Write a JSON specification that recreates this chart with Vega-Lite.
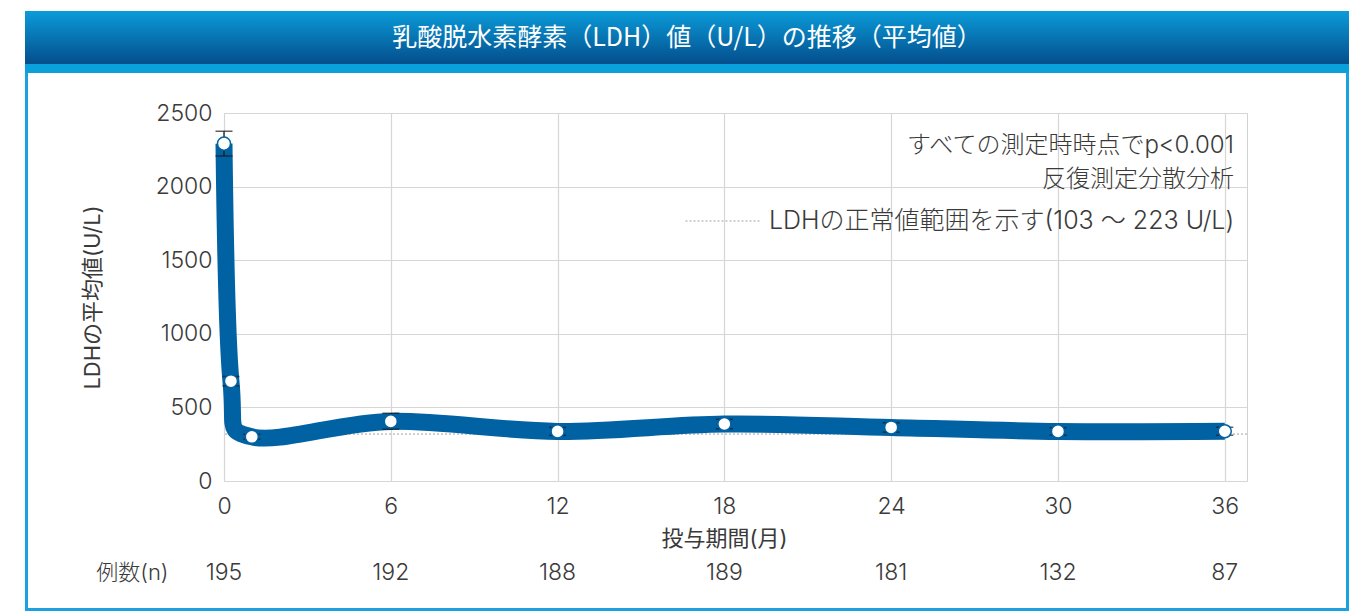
{
  "$schema": "https://vega.github.io/schema/vega-lite/v6.json",
  "background": "#ffffff",
  "padding": {"left": 25, "top": 11, "right": 11, "bottom": 1},
  "spacing": 0,
  "resolve": {"legend": {"color": "independent"}, "scale": {"color": "independent"}},
  "config": {
    "font": "Inter, Noto Sans CJK JP",
    "view": {"stroke": null},
    "axis": {
      "labelFont": "Inter, Noto Sans CJK JP",
      "titleFont": "Inter, Noto Sans CJK JP",
      "labelColor": "#3a3a3a",
      "titleColor": "#3a3a3a",
      "titleFontWeight": "normal",
      "labelFontWeight": 300,
      "labelFlush": false
    }
  },
  "datasets": {
    "ldh": [
      {"month": 0, "mean": 2292, "lo": 2208, "hi": 2376},
      {"month": 0.25, "mean": 678, "lo": 646, "hi": 710},
      {"month": 1, "mean": 300, "lo": 283, "hi": 317},
      {"month": 6, "mean": 405, "lo": 352, "hi": 460},
      {"month": 12, "mean": 337, "lo": 310, "hi": 364},
      {"month": 18, "mean": 387, "lo": 355, "hi": 419},
      {"month": 24, "mean": 364, "lo": 332, "hi": 396},
      {"month": 30, "mean": 337, "lo": 312, "hi": 362},
      {"month": 36, "mean": 338, "lo": 311, "hi": 365}
    ],
    "cases": [
      {"month": 0, "n": 195, "label": "例数(n)"},
      {"month": 6, "n": 192, "label": "例数(n)"},
      {"month": 12, "n": 188, "label": "例数(n)"},
      {"month": 18, "n": 189, "label": "例数(n)"},
      {"month": 24, "n": 181, "label": "例数(n)"},
      {"month": 30, "n": 132, "label": "例数(n)"},
      {"month": 36, "n": 87, "label": "例数(n)"}
    ],
    "ref": [
      {"ldh": 319, "label": "LDHの正常値範囲を示す(103 ～ 223 U/L)"}
    ]
  },
  "vconcat": [
    {
      "width": 1324,
      "height": 53,
      "view": {
        "stroke": null,
        "fill": {"gradient": "linear", "x1": 0, "y1": 0, "x2": 0, "y2": 1,
          "stops": [{"offset": 0, "color": "#0b9bd9"}, {"offset": 1, "color": "#044e8c"}]}
      },
      "data": {"values": [{"t": "乳酸脱水素酵素（LDH）値（U/L）の推移（平均値）"}]},
      "mark": {"type": "text", "color": "#ffffff", "fontSize": 25, "fontWeight": "normal", "font": "Noto Sans CJK JP"},
      "encoding": {"text": {"field": "t", "type": "nominal"}}
    },
    {
      "width": 1324,
      "height": 9,
      "view": {"stroke": null, "fill": "#0aa0dc"},
      "data": {"values": []},
      "mark": "point"
    },
    {
      "columns": 3,
      "spacing": 0,
      "bounds": "flush",
      "align": "each",
      "resolve": {"legend": {"color": "independent"}, "scale": {"color": "independent"}},
      "concat": [
        {
          "width": 199, "height": 40,
          "view": {"stroke": null, "fill": {"gradient": "linear", "x1": 0, "y1": 0, "x2": 1, "y2": 0,
            "stops": [{"offset": 0, "color": "#1ba1dd"}, {"offset": 0.015, "color": "#1ba1dd"}, {"offset": 0.0151, "color": "rgba(255,255,255,0)"}, {"offset": 1, "color": "rgba(255,255,255,0)"}]}},
          "data": {"values": []}, "mark": "point"
        },
        {"width": 1023, "height": 40, "data": {"values": []}, "mark": "point"},
        {
          "width": 102, "height": 40,
          "view": {"stroke": null, "fill": {"gradient": "linear", "x1": 0, "y1": 0, "x2": 1, "y2": 0,
            "stops": [{"offset": 0, "color": "rgba(255,255,255,0)"}, {"offset": 0.97, "color": "rgba(255,255,255,0)"}, {"offset": 0.9701, "color": "#1ba1dd"}, {"offset": 1, "color": "#1ba1dd"}]}},
          "data": {"values": []}, "mark": "point"
        },
        {
          "width": 199, "height": 368,
          "view": {"stroke": null, "fill": {"gradient": "linear", "x1": 0, "y1": 0, "x2": 1, "y2": 0,
            "stops": [{"offset": 0, "color": "#1ba1dd"}, {"offset": 0.015, "color": "#1ba1dd"}, {"offset": 0.0151, "color": "rgba(255,255,255,0)"}, {"offset": 1, "color": "rgba(255,255,255,0)"}]}},
          "data": {"values": []}, "mark": "point"
        },
        {
          "width": 1023,
          "height": 368,
          "view": {"stroke": "#d2d2d2", "strokeWidth": 1},
          "data": {"name": "ldh"},
          "layer": [
            {
              "data": {"name": "ref"},
              "mark": {"type": "rule", "strokeDash": [2, 2], "strokeWidth": 1},
              "encoding": {
                "y": {"field": "ldh", "type": "quantitative", "title": "LDHの平均値(U/L)"},
                "color": {
                  "field": "label", "type": "nominal",
                  "scale": {"range": ["#a0a0a0"]},
                  "legend": {
                    "title": ["すべての測定時時点でp<0.001", "反復測定分散分析"],
                    "orient": "none",
                    "legendX": 461,
                    "legendY": 21,
                    "padding": 0,
                    "titleAlign": "right",
                    "titleAnchor": "end",
                    "titleFont": "Inter, Noto Sans CJK JP",
                    "titleFontSize": 24,
                    "titleFontWeight": 300,
                    "titleColor": "#3a3a3a",
                    "titleLineHeight": 34,
                    "titlePadding": -9,
                    "titleLimit": 900,
                    "labelFont": "Inter, Noto Sans CJK JP",
                    "labelFontSize": 25,
                    "labelFontWeight": 300,
                    "labelColor": "#3a3a3a",
                    "labelLimit": 900,
                    "labelOffset": 8,
                    "symbolType": "stroke",
                    "symbolSize": 5625,
                    "symbolStrokeWidth": 1,
                    "symbolDash": [2, 2],
                    "symbolStrokeColor": "#a0a0a0"
                  }
                }
              }
            },
            {
              "mark": {"type": "line", "interpolate": "cardinal", "tension": 0, "strokeWidth": 17, "color": "#0062a3", "strokeJoin": "round"},
              "encoding": {
                "x": {
                  "field": "month", "type": "quantitative", "title": "投与期間(月)",
                  "scale": {"domain": [0, 36.8], "nice": false, "zero": false},
                  "axis": {
                    "values": [0, 6, 12, 18, 24, 30, 36],
                    "grid": true, "gridColor": "#d6d6d6", "gridWidth": 1.2,
                    "domain": false, "ticks": false,
                    "labelFontSize": 23, "labelPadding": 14,
                    "titleFontSize": 22, "titlePadding": 10,
                    "titleX": 500, "titleAlign": "center"
                  }
                },
                "y": {
                  "field": "mean", "type": "quantitative", "title": "LDHの平均値(U/L)",
                  "scale": {"domain": [0, 2500], "nice": false},
                  "axis": {
                    "values": [0, 500, 1000, 1500, 2000, 2500],
                    "format": "d",
                    "grid": true, "gridColor": "#d6d6d6", "gridWidth": 1.2,
                    "domain": false, "ticks": false,
                    "labelFontSize": 23, "labelPadding": 12,
                    "titleFontSize": 22, "titlePadding": 51
                  }
                }
              }
            },
            {
              "mark": {"type": "errorbar", "color": "#1a1a1a", "ticks": {"size": 17, "thickness": 1.5}, "rule": {"strokeWidth": 1.3}},
              "encoding": {
                "x": {"field": "month", "type": "quantitative", "title": "投与期間(月)"},
                "y": {"field": "lo", "type": "quantitative", "title": "LDHの平均値(U/L)"},
                "y2": {"field": "hi"}
              }
            },
            {
              "mark": {"type": "circle", "size": 170, "fill": "#ffffff", "stroke": "#0062a3", "strokeWidth": 1.5, "opacity": 1},
              "encoding": {
                "x": {"field": "month", "type": "quantitative", "title": "投与期間(月)"},
                "y": {"field": "mean", "type": "quantitative", "title": "LDHの平均値(U/L)"}
              }
            }
          ]
        },
        {
          "width": 102, "height": 368,
          "view": {"stroke": null, "fill": {"gradient": "linear", "x1": 0, "y1": 0, "x2": 1, "y2": 0,
            "stops": [{"offset": 0, "color": "rgba(255,255,255,0)"}, {"offset": 0.97, "color": "rgba(255,255,255,0)"}, {"offset": 0.9701, "color": "#1ba1dd"}, {"offset": 1, "color": "#1ba1dd"}]}},
          "data": {"values": []}, "mark": "point"
        },
        {
          "width": 199, "height": 127,
          "view": {"stroke": null, "fill": {"gradient": "linear", "x1": 0, "y1": 0, "x2": 1, "y2": 0,
            "stops": [{"offset": 0, "color": "#1ba1dd"}, {"offset": 0.015, "color": "#1ba1dd"}, {"offset": 0.0151, "color": "rgba(255,255,255,0)"}, {"offset": 1, "color": "rgba(255,255,255,0)"}]}},
          "data": {"values": []}, "mark": "point"
        },
        {
          "width": 1023,
          "height": 127,
          "data": {"name": "cases"},
          "mark": {"type": "text", "fontSize": 23, "fontWeight": 300, "color": "#3a3a3a"},
          "encoding": {
            "x": {"field": "month", "type": "quantitative", "scale": {"domain": [0, 36.8], "nice": false, "zero": false}, "axis": null},
            "y": {
              "field": "label", "type": "nominal",
              "scale": {"type": "point", "padding": 0.5, "align": 0.724},
              "axis": {"title": null, "domain": false, "ticks": false, "labelFontSize": 22, "labelPadding": 56, "labelFontWeight": 300}
            },
            "text": {"field": "n", "type": "quantitative"}
          }
        },
        {
          "width": 102, "height": 127,
          "view": {"stroke": null, "fill": {"gradient": "linear", "x1": 0, "y1": 0, "x2": 1, "y2": 0,
            "stops": [{"offset": 0, "color": "rgba(255,255,255,0)"}, {"offset": 0.97, "color": "rgba(255,255,255,0)"}, {"offset": 0.9701, "color": "#1ba1dd"}, {"offset": 1, "color": "#1ba1dd"}]}},
          "data": {"values": []}, "mark": "point"
        }
      ]
    },
    {
      "width": 1324,
      "height": 3,
      "view": {"stroke": null, "fill": "#1ba1dd"},
      "data": {"values": []},
      "mark": "point"
    }
  ]
}
